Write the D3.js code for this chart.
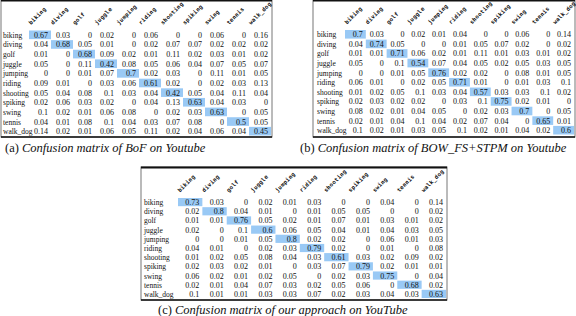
<!DOCTYPE html>
<html>
<head>
<meta charset="utf-8">
<script src="https://cdn.jsdelivr.net/npm/d3@7"></script>
<style>
  body { margin: 0; background: #fff; }
  svg { display: block; }
  .val { font-family: "Liberation Serif", serif; font-size: 8px; fill: #111; }
  .rowlab { font-family: "Liberation Serif", serif; font-size: 7.5px; fill: #111; }
  .collab { font-family: "DejaVu Sans Mono", monospace; font-size: 5.6px; font-weight: bold; fill: #111; letter-spacing: 0.3px; }
  .cap { font-family: "Liberation Serif", serif; font-size: 12.5px; fill: #111; }
</style>
</head>
<body>
<div id="chart"></div>
<script>
// action classes (rows = true class, columns = predicted)
var categories = ["biking","diving","golf","juggle","jumping","riding","shooting","spiking","swing","tennis","walk_dog"];

// (a) BoF on Youtube
var bofValues = [
  [0.67,0.03,0,0.02,0,0.06,0,0,0.06,0,0.16],
  [0.04,0.68,0.05,0.01,0,0.02,0.07,0.07,0.02,0.02,0.02],
  [0.01,0,0.68,0.09,0.02,0.01,0.11,0.02,0.03,0.01,0.02],
  [0.05,0,0.11,0.42,0.08,0.05,0.06,0.04,0.07,0.05,0.07],
  [0,0,0.01,0.07,0.7,0.02,0.03,0,0.11,0.01,0.05],
  [0.09,0.01,0,0.03,0.06,0.61,0.02,0,0.02,0.03,0.13],
  [0.05,0.04,0.08,0.1,0.03,0.04,0.42,0.05,0.04,0.11,0.04],
  [0.02,0.06,0.03,0.02,0,0.04,0.13,0.63,0.04,0.03,0],
  [0.1,0.02,0.01,0.06,0.08,0,0.02,0.03,0.63,0,0.05],
  [0.04,0.01,0.08,0.1,0.04,0.03,0.07,0.08,0,0.5,0.05],
  [0.14,0.02,0.01,0.06,0.05,0.11,0.02,0.04,0.06,0.04,0.45]
];

// (b) BOW_FS+STPM on Youtube
var bowFsValues = [
  [0.7,0.03,0,0.02,0.01,0.04,0,0,0.06,0,0.14],
  [0.04,0.74,0.05,0,0,0.01,0.05,0.07,0.02,0,0.02],
  [0.01,0.01,0.71,0.06,0.02,0.01,0.11,0.01,0.03,0.01,0.02],
  [0.05,0,0.1,0.54,0.07,0.04,0.05,0.02,0.05,0.03,0.05],
  [0,0,0.01,0.05,0.76,0.02,0.02,0,0.08,0.01,0.05],
  [0.06,0.01,0,0.02,0.05,0.71,0.01,0,0.01,0.03,0.1],
  [0.01,0.02,0.05,0.1,0.03,0.04,0.57,0.03,0.03,0.1,0.02],
  [0.02,0.03,0.02,0.02,0,0.03,0.1,0.75,0.02,0.01,0],
  [0.08,0.02,0.01,0.04,0.05,0,0.02,0.03,0.7,0,0.05],
  [0.02,0.01,0.04,0.1,0.04,0.02,0.07,0.04,0,0.65,0.01],
  [0.1,0.02,0.01,0.03,0.05,0.1,0.02,0.01,0.04,0.02,0.6]
];

// (c) our approach on YouTube
var oursValues = [
  [0.73,0.03,0,0.02,0.01,0.03,0,0,0.04,0,0.14],
  [0.02,0.8,0.04,0.01,0,0.01,0.05,0.05,0,0,0.02],
  [0.01,0.01,0.76,0.05,0.02,0.01,0.07,0.01,0.03,0.01,0.02],
  [0.02,0,0.1,0.6,0.06,0.05,0.04,0.01,0.04,0.03,0.05],
  [0,0,0.01,0.05,0.8,0.02,0.02,0,0.06,0.01,0.03],
  [0.04,0.01,0,0.02,0.03,0.79,0.02,0,0.01,0,0.08],
  [0.01,0.02,0.05,0.08,0.04,0.03,0.61,0.03,0.02,0.09,0.02],
  [0.02,0.03,0.02,0.01,0,0.03,0.07,0.79,0.02,0.01,0.01],
  [0.06,0.02,0.01,0.02,0.05,0,0.02,0.03,0.75,0,0.04],
  [0.02,0.01,0.04,0.07,0.03,0.02,0.05,0.06,0,0.68,0.02],
  [0.1,0.01,0.01,0.03,0.03,0.07,0.02,0.03,0.04,0.03,0.63]
];

var captionTags = ["(a)", "(b)", "(c)"];
var captionTexts = ["Confusion matrix of BoF on Youtube",
                    "Confusion matrix of BOW_FS+STPM on Youtube",
                    "Confusion matrix of our approach on YouTube"];

var svg = d3.select("#chart").append("svg")
    .attr("width", 576).attr("height", 316);

function drawMatrix(values, box, tag, caption){
    var g = svg.append("g")

    var x = d3.scaleBand().domain(categories).range([box.cx0, box.cx1])
    var y = d3.scaleBand().domain(categories).range([box.ry0, box.ry1])

    // frame
    g.append("rect")
        .attr("x", box.fx0).attr("y", box.fy0)
        .attr("width", box.fx1 - box.fx0).attr("height", box.fy1 - box.fy0)
        .style("fill", "none").style("stroke", "#777").style("stroke-width", 1)
    g.append("line").attr("x1", box.fx0).attr("x2", box.fx1)
        .attr("y1", box.fy0 + 0.5).attr("y2", box.fy0 + 0.5)
        .style("stroke", "#111").style("stroke-width", 2)
    g.append("line").attr("x1", box.fx0).attr("x2", box.fx1)
        .attr("y1", box.fy1).attr("y2", box.fy1)
        .style("stroke", "#111").style("stroke-width", 1.5)

    var cells = []
    values.forEach(function(row, i){
        row.forEach(function(v, j){
            cells.push({row: categories[i], col: categories[j], value: v, diag: i == j})
        })
    })

    // highlighted diagonal
    g.selectAll(".diag")
        .data(cells.filter(function(d){ return d.diag }))
        .enter().append("rect").attr("class", "diag")
        .attr("x", function(d){ return x(d.col) })
        .attr("y", function(d){ return y(d.row) + 0.5 })
        .attr("width", x.bandwidth())
        .attr("height", y.bandwidth() - 1)
        .style("fill", "#99c9f5")

    g.selectAll(".val")
        .data(cells)
        .enter().append("text").attr("class", "val")
        .attr("x", function(d){ return x(d.col) + x.bandwidth() - 3 })
        .attr("y", function(d){ return y(d.row) + y.bandwidth() / 2 + 3 })
        .attr("text-anchor", "end")
        .text(function(d){ return d.value })

    g.selectAll(".rowlab")
        .data(categories)
        .enter().append("text").attr("class", "rowlab")
        .attr("x", box.lx)
        .attr("y", function(d){ return y(d) + y.bandwidth() / 2 + 3 })
        .text(function(d){ return d })

    g.selectAll(".collab")
        .data(categories)
        .enter().append("text").attr("class", "collab")
        .attr("transform", function(d){
            return "translate(" + (x(d) + 2) + "," + (box.ry0 - 5) + ") rotate(-45)"
        })
        .text(function(d){ return d })

    var cap = g.append("text").attr("class", "cap")
        .attr("x", box.capx).attr("y", box.capy)
    cap.append("tspan").text(tag + "  ")
    cap.append("tspan").style("font-style", "italic").text(caption)
}

drawMatrix(bofValues,
    {fx0: 1, fx1: 272, fy0: 0, fy1: 137, cx0: 29, cx1: 271, ry0: 30, ry1: 136, lx: 3, capx: 5, capy: 152},
    captionTags[0], captionTexts[0])
drawMatrix(bowFsValues,
    {fx0: 313, fx1: 575, fy0: 0, fy1: 137, cx0: 345, cx1: 574, ry0: 29.5, ry1: 135, lx: 317, capx: 300, capy: 152},
    captionTags[1], captionTexts[1])
drawMatrix(oursValues,
    {fx0: 141, fx1: 447, fy0: 167, fy1: 300, cx0: 178, cx1: 446, ry0: 197.5, ry1: 298.5, lx: 144, capx: 158, capy: 314},
    captionTags[2], captionTexts[2])
</script>
</body>
</html>
